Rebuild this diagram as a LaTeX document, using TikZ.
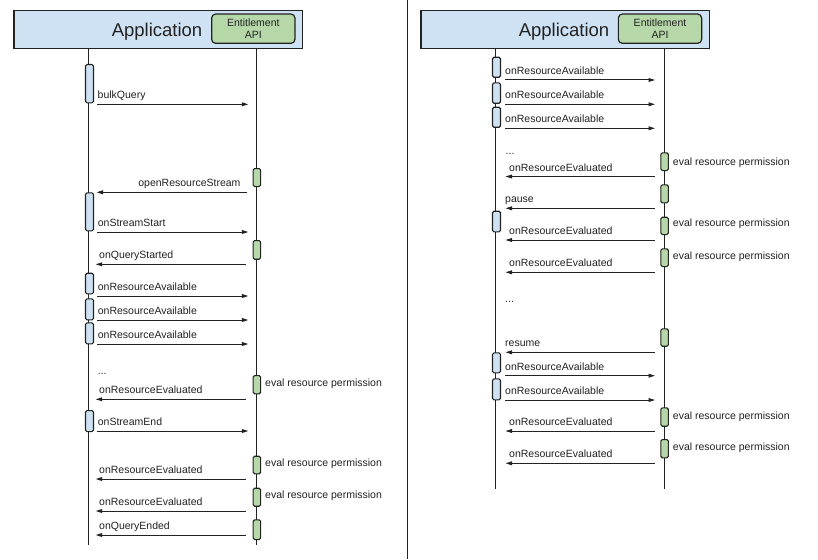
\documentclass[tikz,border=0pt]{standalone}
\usepackage{fontspec}
\setmainfont{Liberation Sans}
\usetikzlibrary{arrows.meta}
\definecolor{ln}{HTML}{222222}
\definecolor{txt}{HTML}{222222}
\definecolor{bfill}{HTML}{CFE2F3}
\definecolor{gfill}{HTML}{B6D7A8}
\tikzset{
  life/.style={draw=ln, line width=1pt},
  msg/.style={draw=ln, line width=1pt, -{Triangle[length=6.5pt,width=3.8pt]}},
  lbl/.style={inner sep=0pt, text=txt, font=\fontsize{10.5pt}{12.6pt}\selectfont},
  hdrbox/.style={draw=ln, line width=1.2pt, fill=bfill, inner sep=0pt, anchor=north west},
  apibox/.style={draw=ln, line width=1.2pt, fill=gfill, rounded corners=4pt, inner sep=0pt,
    align=center, text=txt, font=\fontsize{10.5pt}{12.6pt}\selectfont},
  titletext/.style={inner sep=0pt, text=txt, font=\fontsize{18.5pt}{22pt}\selectfont, anchor=base},
  bluebar/.style={draw=ln, line width=1.1pt, fill=bfill, rounded corners=1.5pt, inner sep=0pt,
    minimum width=8pt, anchor=north},
  greenbar/.style={draw=ln, line width=1.1pt, fill=gfill, rounded corners=1.5pt, inner sep=0pt,
    minimum width=7.5pt, anchor=north},
}
% activation bars: name, x, y-top, y-bottom
\newcommand\barB[4]{\node[bluebar, minimum height={(#4-#3)*1pt}] (#1) at (#2,#3) {};}
\newcommand\barG[4]{\node[greenbar, minimum height={(#4-#3)*1pt}] (#1) at (#2,#3) {};}
% message: name, x-from, x-to, y, label, label-x, label-anchor
\newcommand\msgline[7]{%
  \coordinate (#1s) at (#2,#4);
  \coordinate (#1e) at (#3,#4);
  \draw[msg] (#1s) -- (#1e);
  \node[lbl, anchor=#7] (#1l) at (#6,#4-5.4) {#5};}
% note text: name, x, baseline, text
\newcommand\notetext[4]{\node[lbl, anchor=base west] (#1) at (#2,#3) {#4};}
\begin{document}
\begin{tikzpicture}[x=1pt,y=-1pt]
\useasboundingbox (0,0) rectangle (818,559);
\fill[white] (0,0) rectangle (818,559);

% separator
\coordinate (sepT) at (407.3,0);
\coordinate (sepB) at (407.3,559);
\draw[life] (sepT) -- (sepB);

% ================= LEFT =================
\node[hdrbox, minimum width=288.4pt, minimum height=38.3pt] (hdrL) at (13.3,10) {};
\node[titletext] (titleL) at (157,36.7) {Application};
\node[apibox, minimum width=83.3pt, minimum height=29.3pt] (apiL) at (253.3,28.7) {Entitlement\\API};

\coordinate (laEnd) at (88.7,545);
\coordinate (lbEnd) at (256.7,545);
\draw[life] (hdrL.south -| laEnd) -- (laEnd);
\draw[life] (hdrL.south -| lbEnd) -- (lbEnd);

\barB{lb1}{89.5}{64}{102.3}
\barB{lb2}{89.5}{192.3}{230.3}
\barB{lb3}{89.5}{272.7}{293.3}
\barB{lb4}{89.5}{298.3}{319.3}
\barB{lb5}{89.5}{322.3}{343.3}
\barB{lb6}{89.5}{410}{431}

\barG{lg1}{256.9}{168}{186}
\barG{lg2}{256.9}{240}{258.7}
\barG{lg3}{256.9}{375}{393.3}
\barG{lg4}{256.9}{455.7}{473.3}
\barG{lg5}{256.9}{487.7}{505.7}
\barG{lg6}{256.9}{519.3}{539}

\msgline{lm1}{97.3}{248.3}{104.3}{bulkQuery}{97.5}{base west}
\msgline{lm2}{247.3}{96.5}{192.3}{openResourceStream}{240.7}{base east}
\msgline{lm3}{97.3}{248.3}{232}{onStreamStart}{97.7}{base west}
\msgline{lm4}{245.5}{95.7}{264.3}{onQueryStarted}{99}{base west}
\msgline{lm5}{97.3}{248.3}{296}{onResourceAvailable}{97.7}{base west}
\msgline{lm6}{97.3}{248.3}{320}{onResourceAvailable}{97.7}{base west}
\msgline{lm7}{97.3}{248.3}{344}{onResourceAvailable}{97.7}{base west}
\notetext{ldots}{97.7}{374}{...}
\msgline{lm8}{245.5}{95.7}{399.3}{onResourceEvaluated}{99}{base west}
\msgline{lm9}{97.3}{248.3}{431}{onStreamEnd}{97.7}{base west}
\msgline{lm10}{245.5}{95.7}{479}{onResourceEvaluated}{99}{base west}
\msgline{lm11}{245.5}{95.7}{511}{onResourceEvaluated}{99}{base west}
\msgline{lm12}{245.5}{95.7}{535}{onQueryEnded}{99}{base west}

\notetext{ln1}{265}{386.7}{eval resource permission}
\notetext{ln2}{265}{466}{eval resource permission}
\notetext{ln3}{265}{498}{eval resource permission}

% ================= RIGHT =================
\node[hdrbox, minimum width=288.7pt, minimum height=38.3pt] (hdrR) at (420.3,10) {};
\node[titletext] (titleR) at (564,36.7) {Application};
\node[apibox, minimum width=83.3pt, minimum height=29.3pt] (apiR) at (660,28.7) {Entitlement\\API};

\coordinate (raEnd) at (495.7,489);
\coordinate (rbEnd) at (664.3,489);
\draw[life] (hdrR.south -| raEnd) -- (raEnd);
\draw[life] (hdrR.south -| rbEnd) -- (rbEnd);

\barB{rb1}{496.5}{56.7}{76.7}
\barB{rb2}{496.5}{82.3}{102.7}
\barB{rb3}{496.5}{106.7}{126.7}
\barB{rb4}{496.5}{210.7}{231.3}
\barB{rb5}{496.5}{352.3}{372.3}
\barB{rb6}{496.5}{378.3}{399.3}

\barG{rg1}{664.6}{152.3}{170}
\barG{rg2}{664.6}{184.3}{202.3}
\barG{rg3}{664.6}{216.7}{234}
\barG{rg4}{664.6}{248.3}{266}
\barG{rg5}{664.6}{328.3}{345.7}
\barG{rg6}{664.6}{407.3}{425.7}
\barG{rg7}{664.6}{439}{457.3}

\msgline{rm1}{505}{655}{80}{onResourceAvailable}{505}{base west}
\msgline{rm2}{505}{655}{104.3}{onResourceAvailable}{505}{base west}
\msgline{rm3}{505}{655}{128.3}{onResourceAvailable}{505}{base west}
\notetext{rdots1}{505.5}{154}{...}
\msgline{rm4}{654.5}{505.5}{176.5}{onResourceEvaluated}{509}{base west}
\msgline{rm5}{654.5}{505.5}{208.3}{pause}{505}{base west}
\msgline{rm6}{654.5}{505.5}{240}{onResourceEvaluated}{509}{base west}
\msgline{rm7}{654.5}{505.5}{272.3}{onResourceEvaluated}{509}{base west}
\notetext{rdots2}{505}{302}{...}
\msgline{rm8}{654.5}{505.5}{352.3}{resume}{505}{base west}
\msgline{rm9}{505}{655}{375.7}{onResourceAvailable}{505}{base west}
\msgline{rm10}{505}{655}{400}{onResourceAvailable}{505}{base west}
\msgline{rm11}{654.5}{505.5}{431}{onResourceEvaluated}{509}{base west}
\msgline{rm12}{654.5}{505.5}{463.3}{onResourceEvaluated}{509}{base west}

\notetext{rn1}{672.7}{165.7}{eval resource permission}
\notetext{rn2}{672.7}{226.7}{eval resource permission}
\notetext{rn3}{672.7}{259}{eval resource permission}
\notetext{rn4}{672.7}{419}{eval resource permission}
\notetext{rn5}{672.7}{450.7}{eval resource permission}
\end{tikzpicture}
\end{document}
